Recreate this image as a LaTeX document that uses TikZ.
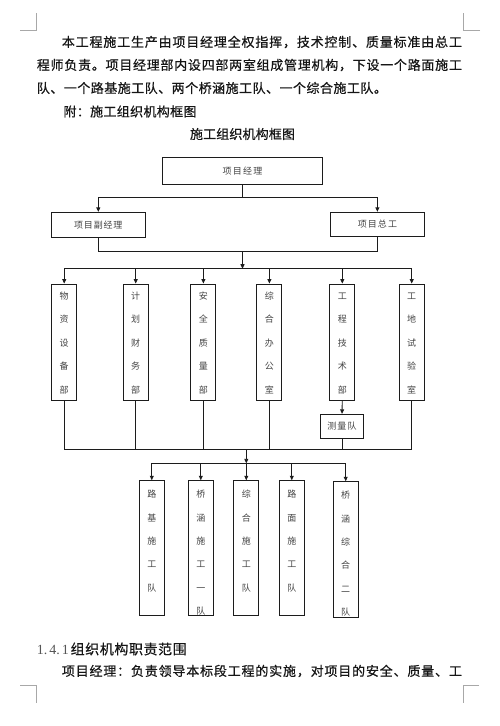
\documentclass[tikz,border=0pt]{standalone}
\usepackage{fontspec}
\setmainfont{Liberation Serif}
\newfontfamily\cjk{Noto Sans CJK SC}
\newfontfamily\cjkb[FakeBold=0.6]{Noto Sans CJK SC}
\usetikzlibrary{arrows.meta}
\definecolor{ink}{HTML}{161616}
\definecolor{boxtext}{HTML}{444444}
\definecolor{headc}{HTML}{555555}
\definecolor{linec}{HTML}{1C1C1C}
\definecolor{markc}{HTML}{A8A8A8}
\makeatletter
\def\sprEnd{sprEnd-quark}
\newcommand\spr[2]{\makebox[#1][s]{\spr@a#2\sprEnd}}
\def\spr@a#1{#1\spr@b}
\def\spr@b#1{\ifx#1\sprEnd\else\hfil#1\expandafter\spr@b\fi}
\makeatother
\newcommand\vbx[3]{\parbox[c][#1][t]{25pt}{\centering\fontsize{9}{23.4}\selectfont\rule{0pt}{#2}#3}}
\begin{document}
\begin{tikzpicture}[x=1pt,y=-1pt,
  box/.style={draw=linec, line width=0.9pt, inner sep=0pt, text=boxtext, font=\cjk\fontsize{9}{9}\selectfont},
  ln/.style={draw=linec, line width=0.9pt},
  arr/.style={ln, -{Triangle[length=4.5pt,width=4pt]}},
  body/.style={inner sep=0pt, text=ink, font=\cjkb\fontsize{13}{13}\selectfont},
  cornermark/.style={draw=markc, line width=0.6pt}
]
\useasboundingbox[fill=white] (0,0) rectangle (500,726);

% page corner marks
\draw[cornermark] (20,30) -- (36,30) -- (36,13);
\draw[cornermark] (480,30) -- (463,30) -- (463,13);
\draw[cornermark] (20,685.7) -- (36,685.7) -- (36,703);
\draw[cornermark] (479,685.7) -- (463,685.7) -- (463,703);

% text
\node[body, anchor=west] (p1) at (61.7,42) {\spr{400pt}{本工程施工生产由项目经理全权指挥，技术控制、质量标准由总工}};
\node[body, anchor=west] (p2) at (36.7,65) {\spr{425pt}{程师负责。项目经理部内设四部两室组成管理机构，下设一个路面施工}};
\node[body, anchor=west] (p3) at (36.7,88) {\spr{350pt}{队、一个路基施工队、两个桥涵施工队、一个综合施工队。}};
\node[body, anchor=west] (p4) at (63.3,111.5) {\spr{133pt}{附：施工组织机构框图}};
\node[body] (title) at (242.5,134) {\spr{105pt}{施工组织机构框图}};
\node[inner sep=0pt, anchor=base west, text=headc, font=\fontsize{14}{14}\selectfont] (h1) at (36.7,654.3) {1.\hspace{2pt}4.\hspace{2pt}1};
\node[body, anchor=base west, font=\cjkb\fontsize{14}{14}\selectfont] (h2) at (70.5,654.3) {\spr{116pt}{组织机构职责范围}};
\node[body, anchor=west] (p6) at (61.7,671) {\spr{400pt}{项目经理：负责领导本标段工程的实施，对项目的安全、质量、工}};

% boxes
\node[box, minimum width=160.4pt, minimum height=27pt] (jl) at (242.5,170.8) {\spr{40pt}{项目经理}};
\node[box, minimum width=93.3pt, minimum height=25pt] (fjl) at (98.3,224.8) {\spr{48.4pt}{项目副经理}};
\node[box, minimum width=93.3pt, minimum height=24.5pt] (zg) at (377.4,224.5) {\spr{39.3pt}{项目总工}};

\node[box] (d1) at (64.2,342) {\vbx{116pt}{15.4pt}{物\\资\\设\\备\\部}};
\node[box] (d2) at (135.7,342) {\vbx{116pt}{15.4pt}{计\\划\\财\\务\\部}};
\node[box] (d3) at (203.4,342) {\vbx{116pt}{15.4pt}{安\\全\\质\\量\\部}};
\node[box] (d4) at (269.4,342) {\vbx{116pt}{15.4pt}{综\\合\\办\\公\\室}};
\node[box] (d5) at (342.3,342) {\vbx{116pt}{15.4pt}{工\\程\\技\\术\\部}};
\node[box] (d6) at (411.7,342) {\vbx{116pt}{15.4pt}{工\\地\\试\\验\\室}};
\node[box, minimum width=42.6pt, minimum height=24pt] (cl) at (342,426.3) {\spr{29.3pt}{测量队}};

\node[box] (t1) at (151.8,548.2) {\vbx{135pt}{17pt}{路\\基\\施\\工\\队}};
\node[box] (t2) at (200.8,548.2) {\vbx{135pt}{17pt}{桥\\涵\\施\\工\\一\\队}};
\node[box] (t3) at (246.3,548.2) {\vbx{135pt}{17pt}{综\\合\\施\\工\\队}};
\node[box] (t4) at (291.8,548.2) {\vbx{135pt}{17pt}{路\\面\\施\\工\\队}};
\node[box] (t5) at (345.7,549.5) {\vbx{135.6pt}{17pt}{桥\\涵\\综\\合\\二\\队}};

% connectors
\coordinate (j1) at (242.5,197.7);
\draw[ln] (jl.south) -- (j1);
\draw[arr] (j1) -| (fjl.north);
\draw[arr] (j1) -| (zg.north);
\coordinate (j2) at (242.5,251.7);
\draw[ln] (fjl.south) |- (j2);
\draw[ln] (zg.south) |- (j2);
\coordinate (j3) at (242.5,268.7);
\draw[arr] (j2) -- (j3);
\draw[ln] (d1.north |- j3) -- (d6.north |- j3);
\foreach \n in {d1,d2,d3,d4,d5,d6} {\draw[arr] (\n.north |- j3) -- (\n.north);}

\draw[arr] (d5.south) -- (cl.north);
\coordinate (j4) at (246.3,449.7);
\foreach \n in {d1,d2,d3,d4,d6,cl} {\draw[ln] (\n.south) -- (\n.south |- j4);}
\draw[ln] (d1.south |- j4) -- (d6.south |- j4);
\coordinate (j5) at (246.3,463.3);
\draw[arr] (j4) -- (j5);
\draw[ln] (t1.north |- j5) -- (t5.north |- j5);
\foreach \n in {t1,t2,t3,t4,t5} {\draw[arr] (\n.north |- j5) -- (\n.north);}
\end{tikzpicture}
\end{document}
